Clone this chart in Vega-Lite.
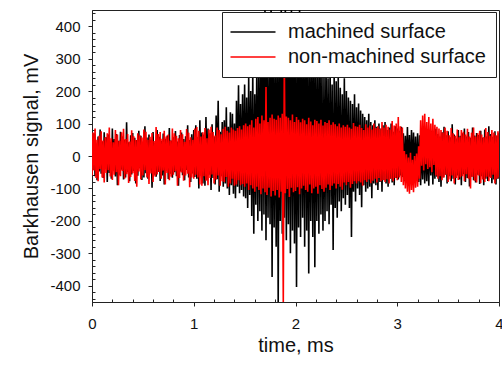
{
"$schema": "https://vega.github.io/schema/vega-lite/v6.json",
"width": 407, "height": 292,
"autosize": {"type": "none"},
"padding": {"left": 92, "top": 10, "right": 3, "bottom": 65},
"background": "white",
"config": {"view": {"stroke": "#222", "strokeWidth": 1}, "font": "Liberation Sans"},
"data": {"values": [
{"t":0.00,"m":55,"n":-60},{"t":0.01,"m":-40,"n":72},{"t":0.02,"m":70,"n":-45},{"t":0.03,"m":-62,"n":85},{"t":0.04,"m":38,"n":-68},{"t":0.05,"m":-75,"n":50},{"t":0.06,"m":60,"n":-78},{"t":0.07,"m":-48,"n":62},{"t":0.08,"m":82,"n":-40},{"t":0.09,"m":-55,"n":76},
{"t":0.10,"m":45,"n":-66},{"t":0.11,"m":-68,"n":48},{"t":0.12,"m":73,"n":-82},{"t":0.13,"m":-35,"n":58},{"t":0.14,"m":58,"n":-52},{"t":0.15,"m":-80,"n":70},{"t":0.16,"m":66,"n":-44},{"t":0.17,"m":-52,"n":88},{"t":0.18,"m":40,"n":-63},{"t":0.19,"m":-70,"n":55},
{"t":0.20,"m":85,"n":-74},{"t":0.21,"m":-45,"n":42},{"t":0.22,"m":52,"n":-58},{"t":0.23,"m":-63,"n":80},{"t":0.24,"m":68,"n":-50},{"t":0.25,"m":-90,"n":66},{"t":0.26,"m":47,"n":-90},{"t":0.27,"m":-58,"n":47},{"t":0.28,"m":75,"n":-62},{"t":0.29,"m":-42,"n":73},
{"t":0.30,"m":60,"n":-46},{"t":0.31,"m":-72,"n":84},{"t":0.32,"m":50,"n":-70},{"t":0.33,"m":-66,"n":52},{"t":0.34,"m":104,"n":-56},{"t":0.35,"m":-50,"n":68},{"t":0.36,"m":42,"n":-83},{"t":0.37,"m":-78,"n":45},{"t":0.38,"m":64,"n":-65},{"t":0.39,"m":-57,"n":79},
{"t":0.40,"m":71,"n":-53},{"t":0.41,"m":-46,"n":61},{"t":0.42,"m":56,"n":-77},{"t":0.43,"m":-85,"n":49},{"t":0.44,"m":49,"n":-95},{"t":0.45,"m":-61,"n":70},{"t":0.46,"m":78,"n":-48},{"t":0.47,"m":-38,"n":64},{"t":0.48,"m":62,"n":-72},{"t":0.49,"m":-74,"n":57},
{"t":0.50,"m":44,"n":-60},{"t":0.51,"m":-66,"n":82},{"t":0.52,"m":92,"n":-44},{"t":0.53,"m":-53,"n":75},{"t":0.54,"m":57,"n":-66},{"t":0.55,"m":-70,"n":50},{"t":0.56,"m":66,"n":-86},{"t":0.57,"m":-44,"n":59},{"t":0.58,"m":50,"n":-54},{"t":0.59,"m":-98,"n":71},
{"t":0.60,"m":74,"n":-80},{"t":0.61,"m":-58,"n":46},{"t":0.62,"m":40,"n":-63},{"t":0.63,"m":-64,"n":89},{"t":0.64,"m":80,"n":-57},{"t":0.65,"m":-49,"n":68},{"t":0.66,"m":59,"n":-49},{"t":0.67,"m":-77,"n":74},{"t":0.68,"m":47,"n":-70},{"t":0.69,"m":-60,"n":53},
{"t":0.70,"m":69,"n":-45},{"t":0.71,"m":-88,"n":78},{"t":0.72,"m":53,"n":-88},{"t":0.73,"m":-45,"n":60},{"t":0.74,"m":63,"n":-52},{"t":0.75,"m":-71,"n":66},{"t":0.76,"m":86,"n":-75},{"t":0.77,"m":-55,"n":48},{"t":0.78,"m":48,"n":-64},{"t":0.79,"m":-67,"n":85},
{"t":0.80,"m":58,"n":-58},{"t":0.81,"m":-50,"n":70},{"t":0.82,"m":77,"n":-47},{"t":0.83,"m":-62,"n":62},{"t":0.84,"m":45,"n":-92},{"t":0.85,"m":-92,"n":55},{"t":0.86,"m":65,"n":-68},{"t":0.87,"m":-48,"n":80},{"t":0.88,"m":72,"n":-51},{"t":0.89,"m":-59,"n":67},
{"t":0.90,"m":52,"n":-76},{"t":0.91,"m":-75,"n":44},{"t":0.92,"m":61,"n":-60},{"t":0.93,"m":-43,"n":83},{"t":0.94,"m":95,"n":-55},{"t":0.95,"m":-66,"n":72},{"t":0.96,"m":49,"n":-96},{"t":0.97,"m":-80,"n":58},{"t":0.98,"m":67,"n":-66},{"t":0.99,"m":-54,"n":50},
{"t":1.00,"m":80,"n":-70},{"t":1.01,"m":-65,"n":85},{"t":1.02,"m":95,"n":-58},{"t":1.03,"m":-70,"n":89},{"t":1.04,"m":58,"n":-66},{"t":1.05,"m":-100,"n":78},{"t":1.06,"m":110,"n":-88},{"t":1.07,"m":-60,"n":60},{"t":1.08,"m":72,"n":-92},{"t":1.09,"m":-85,"n":73},
{"t":1.10,"m":66,"n":-62},{"t":1.11,"m":-92,"n":86},{"t":1.12,"m":120,"n":-76},{"t":1.13,"m":-75,"n":55},{"t":1.14,"m":85,"n":-90},{"t":1.15,"m":-58,"n":82},{"t":1.16,"m":70,"n":-68},{"t":1.17,"m":-105,"n":90},{"t":1.18,"m":98,"n":-57},{"t":1.19,"m":-68,"n":74},
{"t":1.20,"m":60,"n":-85},{"t":1.21,"m":-88,"n":63},{"t":1.22,"m":125,"n":-72},{"t":1.23,"m":-72,"n":88},{"t":1.24,"m":170,"n":-60},{"t":1.25,"m":-110,"n":80},{"t":1.26,"m":75,"n":-92},{"t":1.27,"m":-62,"n":67},{"t":1.28,"m":105,"n":-78},{"t":1.29,"m":-95,"n":84},
{"t":1.30,"m":110,"n":-80},{"t":1.31,"m":-85,"n":90},{"t":1.32,"m":150,"n":-65},{"t":1.33,"m":-100,"n":78},{"t":1.34,"m":90,"n":-95},{"t":1.35,"m":-120,"n":72},{"t":1.36,"m":135,"n":-85},{"t":1.37,"m":-90,"n":88},{"t":1.38,"m":130,"n":-70},{"t":1.39,"m":-116,"n":82},
{"t":1.40,"m":100,"n":-92},{"t":1.41,"m":-130,"n":78},{"t":1.42,"m":170,"n":-88},{"t":1.43,"m":-95,"n":86},{"t":1.44,"m":218,"n":-75},{"t":1.45,"m":-115,"n":92},{"t":1.46,"m":160,"n":-90},{"t":1.47,"m":-105,"n":82},{"t":1.48,"m":190,"n":-86},{"t":1.49,"m":-125,"n":95},
{"t":1.50,"m":220,"n":-95},{"t":1.51,"m":-130,"n":100},{"t":1.52,"m":180,"n":-85},{"t":1.53,"m":-160,"n":92},{"t":1.54,"m":245,"n":-105},{"t":1.55,"m":-120,"n":96},{"t":1.56,"m":200,"n":-90},{"t":1.57,"m":-185,"n":110},{"t":1.58,"m":260,"n":-100},{"t":1.59,"m":-240,"n":88},
{"t":1.60,"m":190,"n":-110},{"t":1.61,"m":-150,"n":115},{"t":1.62,"m":300,"n":-95},{"t":1.63,"m":-200,"n":120},{"t":1.64,"m":270,"n":-105},{"t":1.65,"m":-170,"n":100},{"t":1.66,"m":350,"n":-118},{"t":1.67,"m":-230,"n":125},{"t":1.68,"m":400,"n":-100},{"t":1.69,"m":-180,"n":110},
{"t":1.70,"m":460,"n":-112},{"t":1.71,"m":-260,"n":213},{"t":1.72,"m":350,"n":-120},{"t":1.73,"m":-190,"n":105},{"t":1.74,"m":290,"n":-98},{"t":1.75,"m":-210,"n":118},{"t":1.76,"m":470,"n":-125},{"t":1.77,"m":-373,"n":128},{"t":1.78,"m":380,"n":-108},{"t":1.79,"m":-220,"n":115},
{"t":1.80,"m":300,"n":-122},{"t":1.81,"m":-280,"n":112},{"t":1.82,"m":420,"n":-105},{"t":1.83,"m":-460,"n":125},{"t":1.84,"m":390,"n":-128},{"t":1.85,"m":-200,"n":118},{"t":1.86,"m":460,"n":-110},{"t":1.87,"m":-240,"n":130},{"t":1.88,"m":350,"n":-460},{"t":1.89,"m":-190,"n":300},
{"t":1.90,"m":470,"n":-115},{"t":1.91,"m":-260,"n":122},{"t":1.92,"m":330,"n":-102},{"t":1.93,"m":-210,"n":118},{"t":1.94,"m":410,"n":-126},{"t":1.95,"m":-300,"n":110},{"t":1.96,"m":450,"n":-98},{"t":1.97,"m":-230,"n":128},{"t":1.98,"m":380,"n":-112},{"t":1.99,"m":-270,"n":105},
{"t":2.00,"m":420,"n":-108},{"t":2.01,"m":-404,"n":120},{"t":2.02,"m":360,"n":-96},{"t":2.03,"m":-220,"n":112},{"t":2.04,"m":460,"n":-118},{"t":2.05,"m":-250,"n":104},{"t":2.06,"m":390,"n":-100},{"t":2.07,"m":-190,"n":115},{"t":2.08,"m":310,"n":-92},{"t":2.09,"m":-280,"n":110},
{"t":2.10,"m":440,"n":-105},{"t":2.11,"m":-230,"n":98},{"t":2.12,"m":350,"n":-110},{"t":2.13,"m":-362,"n":118},{"t":2.14,"m":380,"n":-88},{"t":2.15,"m":-200,"n":106},{"t":2.16,"m":300,"n":-115},{"t":2.17,"m":-250,"n":95},{"t":2.18,"m":420,"n":-100},{"t":2.19,"m":-343,"n":112},
{"t":2.20,"m":330,"n":-95},{"t":2.21,"m":-200,"n":108},{"t":2.22,"m":290,"n":-116},{"t":2.23,"m":-240,"n":100},{"t":2.24,"m":360,"n":-90},{"t":2.25,"m":-180,"n":112},{"t":2.26,"m":270,"n":-102},{"t":2.27,"m":-230,"n":94},{"t":2.28,"m":250,"n":-110},{"t":2.29,"m":-200,"n":105},
{"t":2.30,"m":300,"n":-98},{"t":2.31,"m":-170,"n":102},{"t":2.32,"m":240,"n":-88},{"t":2.33,"m":-210,"n":110},{"t":2.34,"m":280,"n":-105},{"t":2.35,"m":-150,"n":96},{"t":2.36,"m":220,"n":-92},{"t":2.37,"m":-290,"n":104},{"t":2.38,"m":260,"n":-85},{"t":2.39,"m":-160,"n":98},
{"t":2.40,"m":230,"n":-100},{"t":2.41,"m":-190,"n":92},{"t":2.42,"m":250,"n":-86},{"t":2.43,"m":-140,"n":100},{"t":2.44,"m":210,"n":-95},{"t":2.45,"m":-170,"n":88},{"t":2.46,"m":190,"n":-104},{"t":2.47,"m":-130,"n":95},{"t":2.48,"m":240,"n":-82},{"t":2.49,"m":-150,"n":90},
{"t":2.50,"m":200,"n":-90},{"t":2.51,"m":-120,"n":96},{"t":2.52,"m":180,"n":-80},{"t":2.53,"m":-160,"n":88},{"t":2.54,"m":170,"n":-98},{"t":2.55,"m":-250,"n":84},{"t":2.56,"m":160,"n":-86},{"t":2.57,"m":-110,"n":102},{"t":2.58,"m":190,"n":-78},{"t":2.59,"m":-140,"n":92},
{"t":2.60,"m":150,"n":-85},{"t":2.61,"m":-100,"n":90},{"t":2.62,"m":162,"n":-78},{"t":2.63,"m":-120,"n":96},{"t":2.64,"m":140,"n":-82},{"t":2.65,"m":-158,"n":86},{"t":2.66,"m":130,"n":-92},{"t":2.67,"m":-90,"n":80},{"t":2.68,"m":120,"n":-75},{"t":2.69,"m":-110,"n":98},
{"t":2.70,"m":110,"n":-80},{"t":2.71,"m":-100,"n":88},{"t":2.72,"m":130,"n":-72},{"t":2.73,"m":-95,"n":94},{"t":2.74,"m":105,"n":-84},{"t":2.75,"m":-130,"n":82},{"t":2.76,"m":95,"n":-76},{"t":2.77,"m":-85,"n":100},{"t":2.78,"m":110,"n":-70},{"t":2.79,"m":-90,"n":86},
{"t":2.80,"m":90,"n":-82},{"t":2.81,"m":-105,"n":92},{"t":2.82,"m":100,"n":-68},{"t":2.83,"m":-80,"n":84},{"t":2.84,"m":85,"n":-78},{"t":2.85,"m":-110,"n":105},{"t":2.86,"m":95,"n":-74},{"t":2.87,"m":-75,"n":88},{"t":2.88,"m":105,"n":-80},{"t":2.89,"m":-85,"n":96},
{"t":2.90,"m":80,"n":-72},{"t":2.91,"m":-95,"n":90},{"t":2.92,"m":88,"n":-85},{"t":2.93,"m":-70,"n":82},{"t":2.94,"m":100,"n":-70},{"t":2.95,"m":-82,"n":108},{"t":2.96,"m":75,"n":-78},{"t":2.97,"m":-90,"n":94},{"t":2.98,"m":92,"n":-68},{"t":2.99,"m":-68,"n":100},
{"t":3.00,"m":85,"n":-75},{"t":3.01,"m":-72,"n":120},{"t":3.02,"m":78,"n":-66},{"t":3.03,"m":-60,"n":92},{"t":3.04,"m":90,"n":-80},{"t":3.05,"m":-65,"n":88},{"t":3.06,"m":70,"n":-90},{"t":3.07,"m":-78,"n":15},{"t":3.08,"m":62,"n":-100},{"t":3.09,"m":-55,"n":5},
{"t":3.10,"m":89,"n":-110},{"t":3.11,"m":-60,"n":-5},{"t":3.12,"m":65,"n":-116},{"t":3.13,"m":-70,"n":10},{"t":3.14,"m":80,"n":-105},{"t":3.15,"m":-58,"n":-12},{"t":3.16,"m":72,"n":-112},{"t":3.17,"m":-66,"n":0},{"t":3.18,"m":60,"n":-98},{"t":3.19,"m":-75,"n":8},
{"t":3.20,"m":70,"n":-95},{"t":3.21,"m":-80,"n":30},{"t":3.22,"m":64,"n":-70},{"t":3.23,"m":-90,"n":110},{"t":3.24,"m":58,"n":-30},{"t":3.25,"m":-72,"n":125},{"t":3.26,"m":75,"n":-45},{"t":3.27,"m":-85,"n":130},{"t":3.28,"m":66,"n":-25},{"t":3.29,"m":-78,"n":105},
{"t":3.30,"m":62,"n":-40},{"t":3.31,"m":-92,"n":120},{"t":3.32,"m":70,"n":-35},{"t":3.33,"m":-60,"n":100},{"t":3.34,"m":78,"n":-50},{"t":3.35,"m":-88,"n":115},{"t":3.36,"m":55,"n":-28},{"t":3.37,"m":-70,"n":96},{"t":3.38,"m":84,"n":-60},{"t":3.39,"m":-64,"n":90},
{"t":3.40,"m":68,"n":-70},{"t":3.41,"m":-80,"n":85},{"t":3.42,"m":60,"n":-62},{"t":3.43,"m":-95,"n":80},{"t":3.44,"m":73,"n":-75},{"t":3.45,"m":-66,"n":72},{"t":3.46,"m":90,"n":-66},{"t":3.47,"m":-58,"n":88},{"t":3.48,"m":64,"n":-58},{"t":3.49,"m":-85,"n":78},
{"t":3.50,"m":76,"n":-80},{"t":3.51,"m":-62,"n":64},{"t":3.52,"m":58,"n":-72},{"t":3.53,"m":-78,"n":86},{"t":3.54,"m":98,"n":-60},{"t":3.55,"m":-70,"n":70},{"t":3.56,"m":66,"n":-85},{"t":3.57,"m":-88,"n":62},{"t":3.58,"m":54,"n":-68},{"t":3.59,"m":-60,"n":82},
{"t":3.60,"m":80,"n":-74},{"t":3.61,"m":-72,"n":58},{"t":3.62,"m":62,"n":-66},{"t":3.63,"m":-90,"n":80},{"t":3.64,"m":70,"n":-62},{"t":3.65,"m":-56,"n":75},{"t":3.66,"m":85,"n":-78},{"t":3.67,"m":-80,"n":66},{"t":3.68,"m":60,"n":-56},{"t":3.69,"m":-68,"n":84},
{"t":3.70,"m":74,"n":-70},{"t":3.71,"m":-94,"n":60},{"t":3.72,"m":56,"n":-100},{"t":3.73,"m":-64,"n":72},{"t":3.74,"m":88,"n":-64},{"t":3.75,"m":-75,"n":88},{"t":3.76,"m":63,"n":-76},{"t":3.77,"m":-82,"n":60},{"t":3.78,"m":71,"n":-82},{"t":3.79,"m":-58,"n":70},
{"t":3.80,"m":65,"n":-60},{"t":3.81,"m":-86,"n":78},{"t":3.82,"m":78,"n":-84},{"t":3.83,"m":-62,"n":66},{"t":3.84,"m":57,"n":-72},{"t":3.85,"m":-90,"n":58},{"t":3.86,"m":82,"n":-80},{"t":3.87,"m":-70,"n":86},{"t":3.88,"m":60,"n":-64},{"t":3.89,"m":-77,"n":74},
{"t":3.90,"m":92,"n":-78},{"t":3.91,"m":-64,"n":62},{"t":3.92,"m":68,"n":-68},{"t":3.93,"m":-84,"n":80},{"t":3.94,"m":59,"n":-58},{"t":3.95,"m":-72,"n":72},{"t":3.96,"m":76,"n":-85},{"t":3.97,"m":-88,"n":64},{"t":3.98,"m":62,"n":-70},{"t":3.99,"m":-70,"n":76},
{"t":4.00,"m":70,"n":-66}
]},
"transform": [{"fold": ["m", "n"], "as": ["s", "v"]}],
"mark": {"type": "line", "strokeWidth": 1.6, "clip": true},
"encoding": {
  "x": {"field": "t", "type": "quantitative",
    "scale": {"domain": [0, 4], "nice": false, "zero": false},
    "axis": {"title": "time, ms", "titleFontSize": 20, "titleFontWeight": "normal", "titleColor": "#111", "titlePadding": 4,
      "values": [0,0.2,0.4,0.6,0.8,1,1.2,1.4,1.6,1.8,2,2.2,2.4,2.6,2.8,3,3.2,3.4,3.6,3.8,4],
      "labelExpr": "abs(datum.value - round(datum.value)) < 0.001 ? '' + round(datum.value) : ''",
      "labelFontSize": 15, "labelColor": "#111", "labelPadding": 10, "labelOverlap": false, "labelFlush": false,
      "tickSize": {"condition": {"test": "abs(datum.value - round(datum.value)) < 0.001", "value": 4}, "value": -3},
      "tickColor": "#222", "domainColor": "#222", "grid": false}},
  "y": {"field": "v", "type": "quantitative",
    "scale": {"domain": [-450, 450], "nice": false},
    "axis": {"title": "Barkhausen signal, mV", "titleFontSize": 20, "titleFontWeight": "normal", "titleColor": "#111", "titlePadding": 8,
      "values": [-440,-420,-400,-380,-360,-340,-320,-300,-280,-260,-240,-220,-200,-180,-160,-140,-120,-100,-80,-60,-40,-20,0,20,40,60,80,100,120,140,160,180,200,220,240,260,280,300,320,340,360,380,400,420,440],
      "labelExpr": "datum.value % 100 === 0 ? '' + datum.value : ''",
      "labelFontSize": 15, "labelColor": "#111", "labelPadding": 8, "labelOverlap": false,
      "tickSize": {"condition": {"test": "datum.value % 100 === 0", "value": 4}, "value": -3},
      "tickColor": "#222", "domainColor": "#222", "grid": false}},
  "color": {"field": "s", "type": "nominal",
    "scale": {"domain": ["m", "n"], "range": ["#000000", "#ff0000"]},
    "legend": {"title": null, "orient": "none", "legendX": 130, "legendY": 2, "direction": "vertical",
      "fillColor": "white", "strokeColor": "#222", "padding": 10, "cornerRadius": 0,
      "symbolType": "M-2.5,0L2.5,0", "symbolSize": 324, "symbolStrokeWidth": 1.5, "symbolOffset": 11,
      "labelFontSize": 20, "labelColor": "#111", "labelOffset": 25, "labelLimit": 400, "rowPadding": 5,
      "labelExpr": "datum.label == 'm' ? 'machined surface' : 'non-machined surface'"}}
}
}
